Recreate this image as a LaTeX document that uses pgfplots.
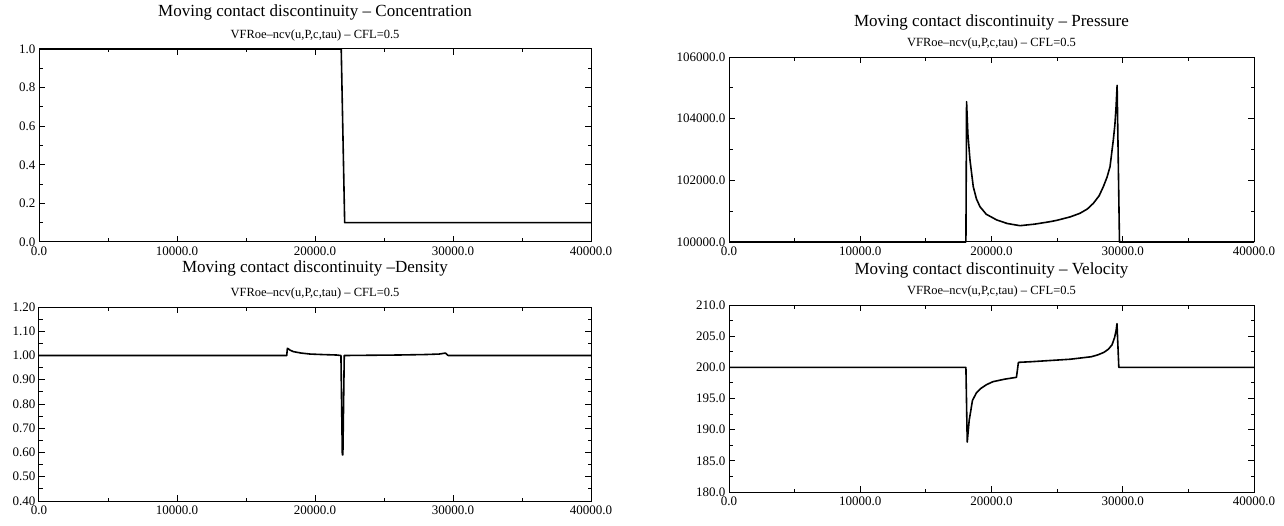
\documentclass[border=0pt]{standalone}
\usepackage{fontspec}
\setmainfont{Liberation Serif}
\usepackage{pgfplots}
\pgfplotsset{compat=1.18}

\pgfplotsset{
  solution/.style={
    scale only axis,
    anchor=south west,
    clip=false,
    xmin=0, xmax=40000,
    xtick={0,10000,20000,30000,40000},
    minor x tick num=1,
    minor y tick num=1,
    scaled x ticks=false,
    scaled y ticks=false,
    tick align=inside,
    major tick length=6pt,
    minor tick length=3.5pt,
    every tick/.style={black, line width=1pt},
    axis line style={line width=1pt},
    /pgf/number format/assume math mode=true,
    tick label style={font=\fontsize{13}{15}\selectfont},
    xticklabel style={yshift=-1.5pt, /pgf/number format/.cd, fixed, fixed zerofill, precision=1, 1000 sep={}},
    yticklabel style={/pgf/number format/.cd, fixed, fixed zerofill, precision=1, 1000 sep={}},
    cycle list={{black, no markers}},
    every axis plot post/.append style={line width=1.6pt, line join=round},
  },
  heading/.style 2 args={
    execute at end axis={
      \node[font=\fontsize{17}{19}\selectfont] at (rel axis cs:0.5,1) [yshift=#2] {#1};
      \node[font=\fontsize{12.5}{14}\selectfont] at (rel axis cs:0.5,1) [yshift=14pt] {VFRoe–ncv(u,P,c,tau) – CFL=0.5};
    }
  },
}

\begin{document}
\begin{tikzpicture}[x=1pt,y=1pt]
\path[use as bounding box] (0,0) rectangle (1284,525);

% Concentration
\begin{axis}[solution, heading={Moving contact discontinuity – Concentration}{37pt},
  at={(39pt,283pt)}, width=552pt, height=193pt,
  ymin=0, ymax=1, ytick={0,0.2,0.4,0.6,0.8,1.0}]
\addplot coordinates {
(0,1) (21900,1) (22150,0.1) (40000,0.1)
};
\end{axis}

% Pressure
\begin{axis}[solution, heading={Moving contact discontinuity – Pressure}{35pt},
  at={(729pt,283pt)}, width=525pt, height=185pt,
  ymin=100000, ymax=106000, ytick={100000,102000,104000,106000}]
\addplot coordinates {
(0,100000) (18050,100000) (18100,104550) (18200,103500) (18360,102660)
(18610,101794) (18850,101400) (19120,101145) (19600,100900) (20400,100714)
(21200,100600) (22170,100529) (23300,100580) (24460,100659) (25000,100705)
(26000,100815) (26740,100931) (27300,101070) (27760,101255) (28200,101500)
(28520,101794) (28800,102100) (29030,102443) (29280,103308) (29400,103800)
(29490,104388) (29570,105080) (29750,100000) (40000,100000)
};
\end{axis}

% Density
\begin{axis}[solution, heading={Moving contact discontinuity –Density}{39pt},
  at={(39pt,24pt)}, width=552pt, height=194pt,
  ymin=0.4, ymax=1.2, ytick={0.4,0.5,0.6,0.7,0.8,0.9,1.0,1.1,1.2},
  yticklabel style={/pgf/number format/.cd, fixed, fixed zerofill, precision=2}]
\addplot coordinates {
(0,1) (17950,1) (18000,1.030) (18200,1.022) (18430,1.016) (19000,1.010)
(19640,1.006) (20500,1.004) (21570,1.002) (21880,1.0) (21980,0.59)
(22020,0.59) (22120,1.0) (24000,1.001) (26000,1.002) (28000,1.004)
(29000,1.006) (29450,1.010) (29650,1.0) (40000,1.0)
};
\end{axis}

% Velocity
\begin{axis}[solution, heading={Moving contact discontinuity – Velocity}{35pt},
  at={(729pt,33pt)}, width=525pt, height=187pt,
  ymin=180, ymax=210, ytick={180,185,190,195,200,205,210}]
\addplot coordinates {
(0,200) (18050,200) (18150,188) (18300,191.5) (18550,194.7) (18850,195.9)
(19180,196.6) (19600,197.2) (20110,197.7) (21000,198.1) (21900,198.4)
(22050,200.8) (23000,200.9) (24500,201.1) (26000,201.3) (27600,201.7)
(28100,202.0) (28560,202.4) (28900,202.9) (29180,203.6) (29380,204.8)
(29500,206.0) (29560,207.0) (29700,200) (40000,200)
};
\end{axis}
\end{tikzpicture}
\end{document}
